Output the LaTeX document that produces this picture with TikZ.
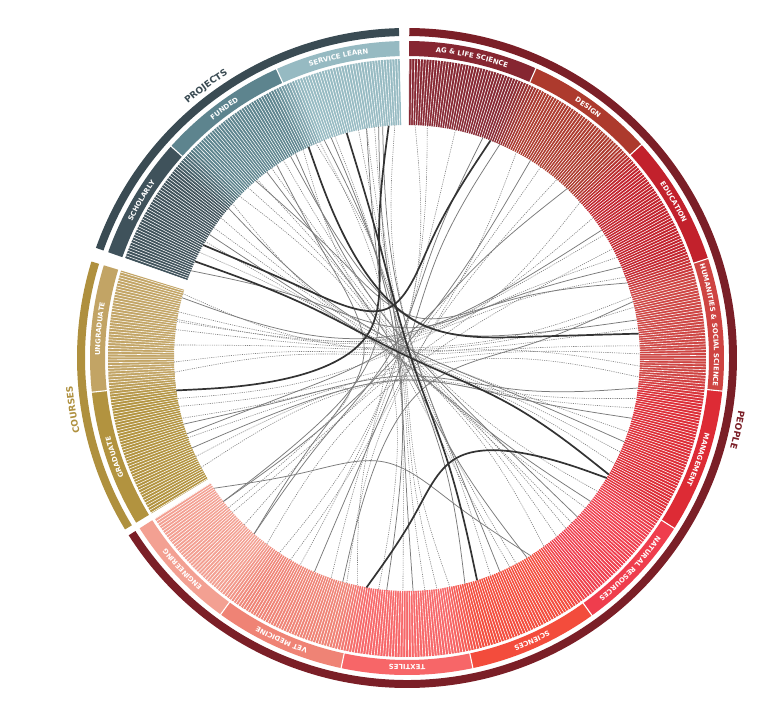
\documentclass[tikz,border=0pt]{standalone}
\usepackage{fontspec}
\setmainfont{DejaVu Sans}
\usetikzlibrary{calc,decorations.text}

\definecolor{cAG}{HTML}{862631}
\definecolor{cDES}{HTML}{AD3A2D}
\definecolor{cEDU}{HTML}{C2212C}
\definecolor{cHUM}{HTML}{CE4442}
\definecolor{cMGT}{HTML}{DD2B35}
\definecolor{cNR}{HTML}{EF3D4D}
\definecolor{cSCI}{HTML}{F34C3C}
\definecolor{cTEX}{HTML}{F76668}
\definecolor{cVET}{HTML}{EF8375}
\definecolor{cENG}{HTML}{F3A092}
\definecolor{cPEO}{HTML}{7B1F27}
\definecolor{cSCH}{HTML}{3F525B}
\definecolor{cFUN}{HTML}{5D848E}
\definecolor{cSER}{HTML}{96BAC2}
\definecolor{cPRO}{HTML}{3A4B53}
\definecolor{cUND}{HTML}{C2A465}
\definecolor{cGRA}{HTML}{B2933F}
\definecolor{cCOU}{HTML}{AF903E}

\newcommand\lblfont{\fontsize{6.9}{7}\selectfont\bfseries}
\newcommand\grpfont{\fontsize{9}{10}\selectfont\bfseries}

\newcommand\sector[5]{\fill[#1] (#2:#4) arc[start angle=#2,end angle=#3,radius=#4] -- (#3:#5) arc[start angle=#3,end angle=#2,radius=#5] -- cycle;}
\newcommand\blend[3]{\foreach \k in {0,...,5}{%
  \pgfmathsetmacro\pc{100-(\k+0.5)*100/6}%
  \pgfmathsetmacro\aa{#1-3+\k-0.05}%
  \pgfmathsetmacro\ab{#1-2+\k+0.05}%
  \sector{#2!\pc!#3}{\aa}{\ab}{233pt}{299pt}}}
\newcommand\seglabel[3]{\path[decorate,decoration={text along path,text color=white,text align=center,text={|\lblfont|#3}}] (#1:307pt) arc[start angle=#1,end angle=#2,radius=307pt];}
\newcommand\grplabel[4]{\path[decorate,decoration={text along path,text color=#3,text align=center,text={|\grpfont|#4}}] (#1:335.5pt) arc[start angle=#1,end angle=#2,radius=335.5pt];}

\def\RR{233pt}\def\RS{116.5pt}\def\bta{0.85}
\newcommand\findsg[1]{%
  \pgfmathsetmacro\myang{#1}%
  \pgfmathsetmacro\mysg{\myang>186.2 ? 198.85 : (\myang>162 ? 174.6 : (\myang>138.1 ? 149.3 : (\myang>114.3 ? 126.2 : (\myang>90.5 ? 102.85 : (\myang>66 ? 77.85 : (\myang>42.3 ? 54.15 : (\myang>18.3 ? 30.3 : (\myang>-6 ? 6.15 : (\myang>-32.5 ? -19.25 : (\myang>-54.3 ? -43.4 : (\myang>-78 ? -66.2 : (\myang>-102 ? -90 : (\myang>-126 ? -114 : -137)))))))))))))}%
}
\newcommand\bundle[2]{%
  \foreach \i in {0,...,#2}{%
    \coordinate (L\i) at ($(p0)!{\i/#2}!(p#2)$);
    \coordinate (q\i) at ($(L\i)!\bta!(p\i)$);
  }%
  \pgfmathtruncatemacro\nm{#2-1}%
  \draw[#1] (q0) -- ($0.8333*(q0)+0.1667*(q1)$)
    \foreach \i [evaluate=\i as \j using int(\i-1), evaluate=\i as \k using int(\i-2)] in {2,...,#2}{
      .. controls ($0.6667*(q\k)+0.3333*(q\j)$) and ($0.3333*(q\k)+0.6667*(q\j)$) .. ($0.1667*(q\k)+0.6667*(q\j)+0.1667*(q\i)$)
    }
    .. controls ($0.6667*(q\nm)+0.3333*(q#2)$) and ($0.3333*(q\nm)+0.6667*(q#2)$) .. ($0.1667*(q\nm)+0.8333*(q#2)$) -- (q#2);
}
\newcommand\chord[4][0.85]{%
  \def\bta{#1}%
  \findsg{#3}\let\aA\myang\let\sA\mysg
  \findsg{#4}\let\aB\myang\let\sB\mysg
  \coordinate (p0) at (\aA:\RR);
  \ifdim\sA pt=\sB pt\relax
    \coordinate (p1) at (\sA:\RS);
    \coordinate (p2) at (\aB:\RR);
    \bundle{#2}{2}%
  \else
    \coordinate (p1) at (\sA:\RS);
    \coordinate (p2) at (0,0);
    \coordinate (p3) at (\sB:\RS);
    \coordinate (p4) at (\aB:\RR);
    \bundle{#2}{4}%
  \fi
}

\begin{document}
\begin{tikzpicture}[x=1pt,y=1pt,
  thk/.style={draw=black!80,line width=1.7pt},
  sld/.style={draw=black!52,line width=0.75pt},
  dtd/.style={draw=black!50,line width=0.6pt,dash pattern=on 1.1pt off 1.1pt}]
\useasboundingbox (-407,-364) rectangle (359,358);
\fill[white] (-407,-364) rectangle (359,358);
\coordinate (O) at (0,0);

% bars
\sector{cENG}{-147.5}{-126}{233pt}{299pt}
\sector{cVET}{-126}{-102}{233pt}{299pt}
\sector{cTEX}{-102}{-78}{233pt}{299pt}
\sector{cSCI}{-78}{-54.3}{233pt}{299pt}
\sector{cNR}{-54.3}{-32.5}{233pt}{299pt}
\sector{cMGT}{-32.5}{-6}{233pt}{299pt}
\sector{cHUM}{-6}{18.3}{233pt}{299pt}
\sector{cEDU}{18.3}{42.3}{233pt}{299pt}
\sector{cDES}{42.3}{66}{233pt}{299pt}
\sector{cAG}{66}{89.6}{233pt}{299pt}
\sector{cSER}{91.4}{114.3}{233pt}{299pt}
\sector{cFUN}{114.3}{138.1}{233pt}{299pt}
\sector{cSCH}{138.1}{160.5}{233pt}{299pt}
\sector{cUND}{163}{186.2}{233pt}{299pt}
\sector{cGRA}{186.2}{211.3}{233pt}{299pt}
\blend{-126}{cENG}{cVET}
\blend{-102}{cVET}{cTEX}
\blend{-78}{cTEX}{cSCI}
\blend{-54.3}{cSCI}{cNR}
\blend{-32.5}{cNR}{cMGT}
\blend{-6}{cMGT}{cHUM}
\blend{18.3}{cHUM}{cEDU}
\blend{42.3}{cEDU}{cDES}
\blend{66}{cDES}{cAG}
\blend{114.3}{cSER}{cFUN}
\blend{138.1}{cFUN}{cSCH}
\blend{186.2}{cUND}{cGRA}
\foreach \t in {-148,-147.45,...,212}{\draw[white,line width=0.55pt] (\t:231pt) -- (\t:300pt);}

% label band
\sector{cENG}{-147.5}{-126}{302pt}{317pt}
\sector{cVET}{-126}{-102}{302pt}{317pt}
\sector{cTEX}{-102}{-78}{302pt}{317pt}
\sector{cSCI}{-78}{-54.3}{302pt}{317pt}
\sector{cNR}{-54.3}{-32.5}{302pt}{317pt}
\sector{cMGT}{-32.5}{-6}{302pt}{317pt}
\sector{cHUM}{-6}{18.3}{302pt}{317pt}
\sector{cEDU}{18.3}{42.3}{302pt}{317pt}
\sector{cDES}{42.3}{66}{302pt}{317pt}
\sector{cAG}{66}{89.6}{302pt}{317pt}
\sector{cSER}{91.4}{114.3}{302pt}{317pt}
\sector{cFUN}{114.3}{138.1}{302pt}{317pt}
\sector{cSCH}{138.1}{160.5}{302pt}{317pt}
\sector{cUND}{163}{186.2}{302pt}{317pt}
\sector{cGRA}{186.2}{211.3}{302pt}{317pt}
\foreach \t in {-126,-102,-78,-54.3,-32.5,-6,18.3,42.3,66,114.3,138.1,186.2}{\draw[white,line width=1.1pt] (\t:300pt) -- (\t:319pt);}

% group rings
\sector{cPEO}{-147.5}{89.6}{322pt}{330pt}
\sector{cPRO}{91.4}{160.5}{322pt}{330pt}
\sector{cCOU}{163}{211.3}{322pt}{330pt}

% labels
\seglabel{89.6}{66}{AG {\&} LIFE SCIENCE}
\seglabel{66}{42.3}{DESIGN}
\seglabel{42.3}{18.3}{EDUCATION}
\seglabel{18.3}{-6}{HUMANITIES {\&} SOCIAL SCIENCE}
\seglabel{-6}{-32.5}{MANAGEMENT}
\seglabel{-32.5}{-54.3}{NATURAL RESOURCES}
\seglabel{-54.3}{-78}{SCIENCES}
\seglabel{-78}{-102}{TEXTILES}
\seglabel{-102}{-126}{VET MEDICINE}
\seglabel{-126}{-147.5}{ENGINEERING}
\seglabel{160.5}{138.1}{SCHOLARLY}
\seglabel{138.1}{114.3}{FUNDED}
\seglabel{114.3}{91.4}{SERVICE LEARN}
\seglabel{186.2}{163}{UNGRADUATE}
\seglabel{211.3}{186.2}{GRADUATE}
\grplabel{146}{107}{cPRO}{PROJECTS}
\grplabel{10}{-34.6}{cPEO}{PEOPLE}
\grplabel{210}{167.6}{cCOU}{COURSES}

% dotted chords
\chord{dtd}{168.6}{25.6}
\chord{dtd}{170.5}{20.3}
\chord{dtd}{173}{15.2}
\chord{dtd}{176.8}{12.6}
\chord{dtd}{181}{7.4}
\chord{dtd}{183.5}{3}
\chord{dtd}{192}{1}
\chord{dtd}{200}{-4.7}
\chord{dtd}{205}{-10}
\chord{dtd}{208}{-12.4}
\chord{dtd}{143}{-18.5}
\chord{dtd}{146}{-23.8}
\chord{dtd}{153}{-27}
\chord{dtd}{122}{-35}
\chord{dtd}{125.5}{-47}
\chord{dtd}{130}{-50}
\chord{dtd}{133}{-54}
\chord{dtd}{136}{-63.8}
\chord{dtd}{93}{-69}
\chord{dtd}{98}{-79.4}
\chord{dtd}{100}{-82.6}
\chord{dtd}{102}{-85.6}
\chord{dtd}{108}{-91}
\chord{dtd}{112}{-102.3}
\chord{dtd}{85}{-117.3}
\chord{dtd}{78}{-123.2}
\chord{dtd}{55}{-134.3}
\chord{dtd}{42}{-138.5}
\chord{dtd}{88}{-109}
\chord{dtd}{37}{190}
\chord{dtd}{-127}{28}
\chord{dtd}{-2}{164}
\chord{dtd}{-45}{138.5}
\chord{dtd}{-62}{113}
\chord{dtd}{-97}{116.5}
\chord{dtd}{-120}{50}
\chord{dtd}{-105}{62}
\chord{dtd}{-140}{195}
\chord{dtd}{32}{171}
\chord{dtd}{-40}{150}

% solid chords
\chord{sld}{165}{33.3}
\chord{sld}{196.5}{-7.4}
\chord{sld}{202.7}{-15}
\chord{sld}{140}{-21.1}
\chord{sld}{148}{-38}
\chord{sld}{158}{23}
\chord{sld}{118.6}{-43}
\chord{sld}{127}{-59}
\chord{sld}{96}{-66.5}
\chord{sld}{110.8}{-75.6}
\chord{sld}{97}{-95}
\chord{sld}{71}{-131}
\chord{sld}{66.5}{-113.4}
\chord{sld}{58}{-142}
\chord{sld}{46.6}{199}
\chord{sld}{18.8}{130.5}
\chord{sld}{9.4}{120}
\chord{sld}{-88.5}{109}
\chord[0.45]{sld}{-146}{-58}
\chord{sld}{-131}{124}
\chord{sld}{-106}{14}
\chord{sld}{-142}{100}

% thick chords
\chord{thk}{151}{69}
\chord{thk}{155.5}{-30}
\chord{thk}{105}{-72.5}
\chord{thk}{94.5}{188}
\chord{thk}{115}{6}
\chord[0.5]{thk}{-100}{-31}
\end{tikzpicture}
\end{document}
